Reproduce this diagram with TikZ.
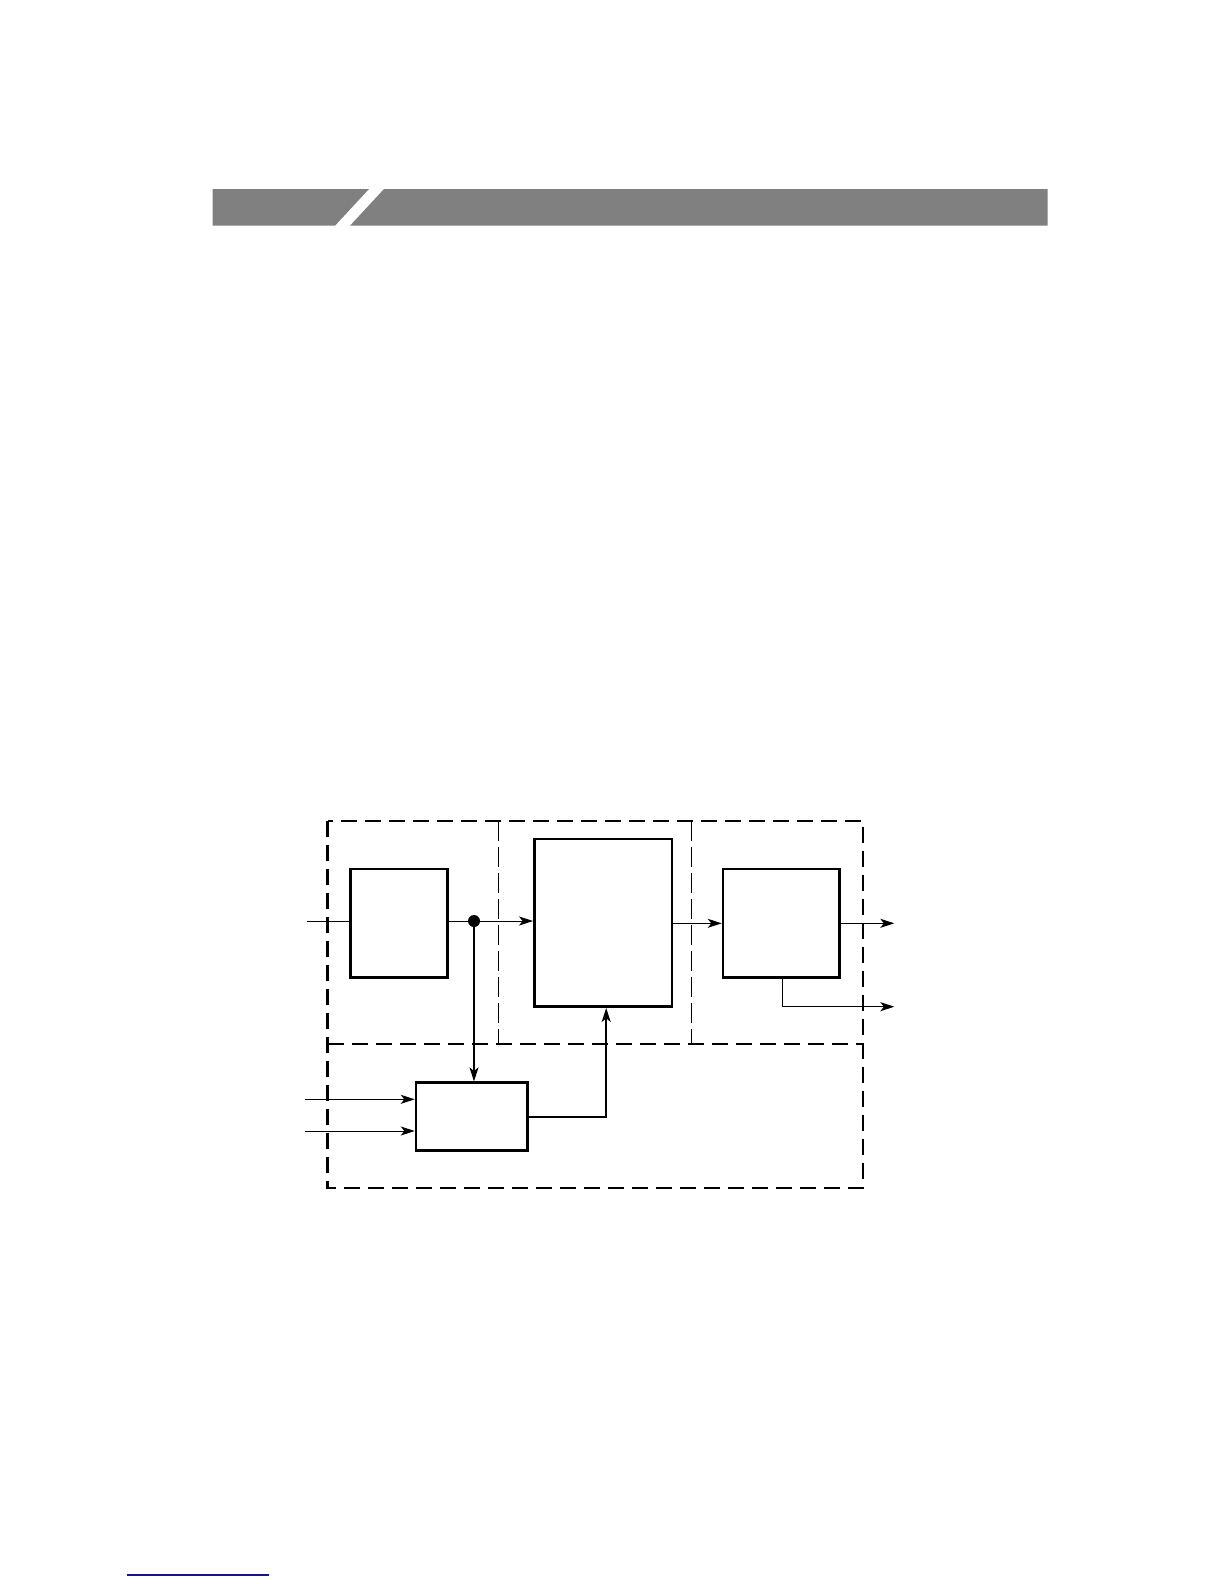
\documentclass[tikz,border=0pt]{standalone}
\usetikzlibrary{arrows.meta}
\definecolor{bargray}{RGB}{128,128,128}
\definecolor{rulenavy}{RGB}{20,20,140}
\tikzset{
  blk/.style={draw, line width=1.3pt, inner sep=0pt, fill=white},
  tip/.style={-{Stealth[length=7pt,width=4.5pt,inset=1.8pt]}},
  sig/.style={line width=0.5pt, tip},
  wire/.style={line width=0.5pt},
  bus/.style={line width=0.8pt},
  zone/.style={line width=1.1pt, dash pattern={on 8pt off 4pt}},
  subzone/.style={line width=0.6pt, dash pattern={on 10pt off 3pt}},
}
\begin{document}
\begin{tikzpicture}[x=0.5pt,y=0.5pt,yscale=-1,xscale=1]
\useasboundingbox (0,0) rectangle (1224,1584);

%Header bar
\fill [bargray] (212.7,189) -- (369,189) -- (335,225.7) -- (212.7,225.7) -- cycle;
\fill [bargray] (384,189) -- (1047.7,189) -- (1047.7,225.7) -- (350,225.7) -- cycle;

%Dashed zones
\draw [zone] (327.5,820.7) rectangle (862.7,1188.3);
\draw [zone] (327.5,1044) -- (862.7,1044);
\draw [subzone] (498.5,820.7) -- (498.5,1044);
\draw [subzone] (691.7,820.7) -- (691.7,1044);

%Blocks
\node [blk, minimum width=97pt*0.5, minimum height=108.7pt*0.5] (inb) at (399.2,923.3) {};
\node [blk, minimum width=137.7pt*0.5, minimum height=167.7pt*0.5] (proc) at (603.2,922.8) {};
\node [blk, minimum width=116.3pt*0.5, minimum height=108.7pt*0.5] (outb) at (781.2,923.3) {};
\node [blk, minimum width=111.7pt*0.5, minimum height=68pt*0.5] (ctrl) at (471.9,1116.7) {};

%Free ends
\coordinate (src) at (306.7,921);
\coordinate (tap) at (474,921);
\coordinate (ina) at (305,1099.3);
\coordinate (inc) at (305,1131);
\coordinate (outa) at (894.3,923.3);
\coordinate (outc) at (894.3,1006.7);

%Straight Lines
\draw [wire] (src) -- (src -| inb.west);
\draw [wire] (inb.east |- tap) -- (tap);
\draw [sig] (tap) -- (tap -| proc.west);
\fill (tap) circle [radius=6];
\draw [bus, tip] (tap) -- (tap |- ctrl.north);
\draw [sig] (ina) -- (ina -| ctrl.west);
\draw [sig] (inc) -- (inc -| ctrl.west);
\draw [bus, tip] (ctrl.east) -| ([xshift=1.5pt]proc.south);
\draw [sig] (proc.east |- outb.west) -- (outb.west);
\draw [sig] (outb.east) -- (outa);
\draw [sig] ([xshift=0.75pt]outb.south) |- (outc);

%Bottom rule
\draw [rulenavy, line width=0.75pt] (127,1575) -- (269,1575);

\end{tikzpicture}
\end{document}
